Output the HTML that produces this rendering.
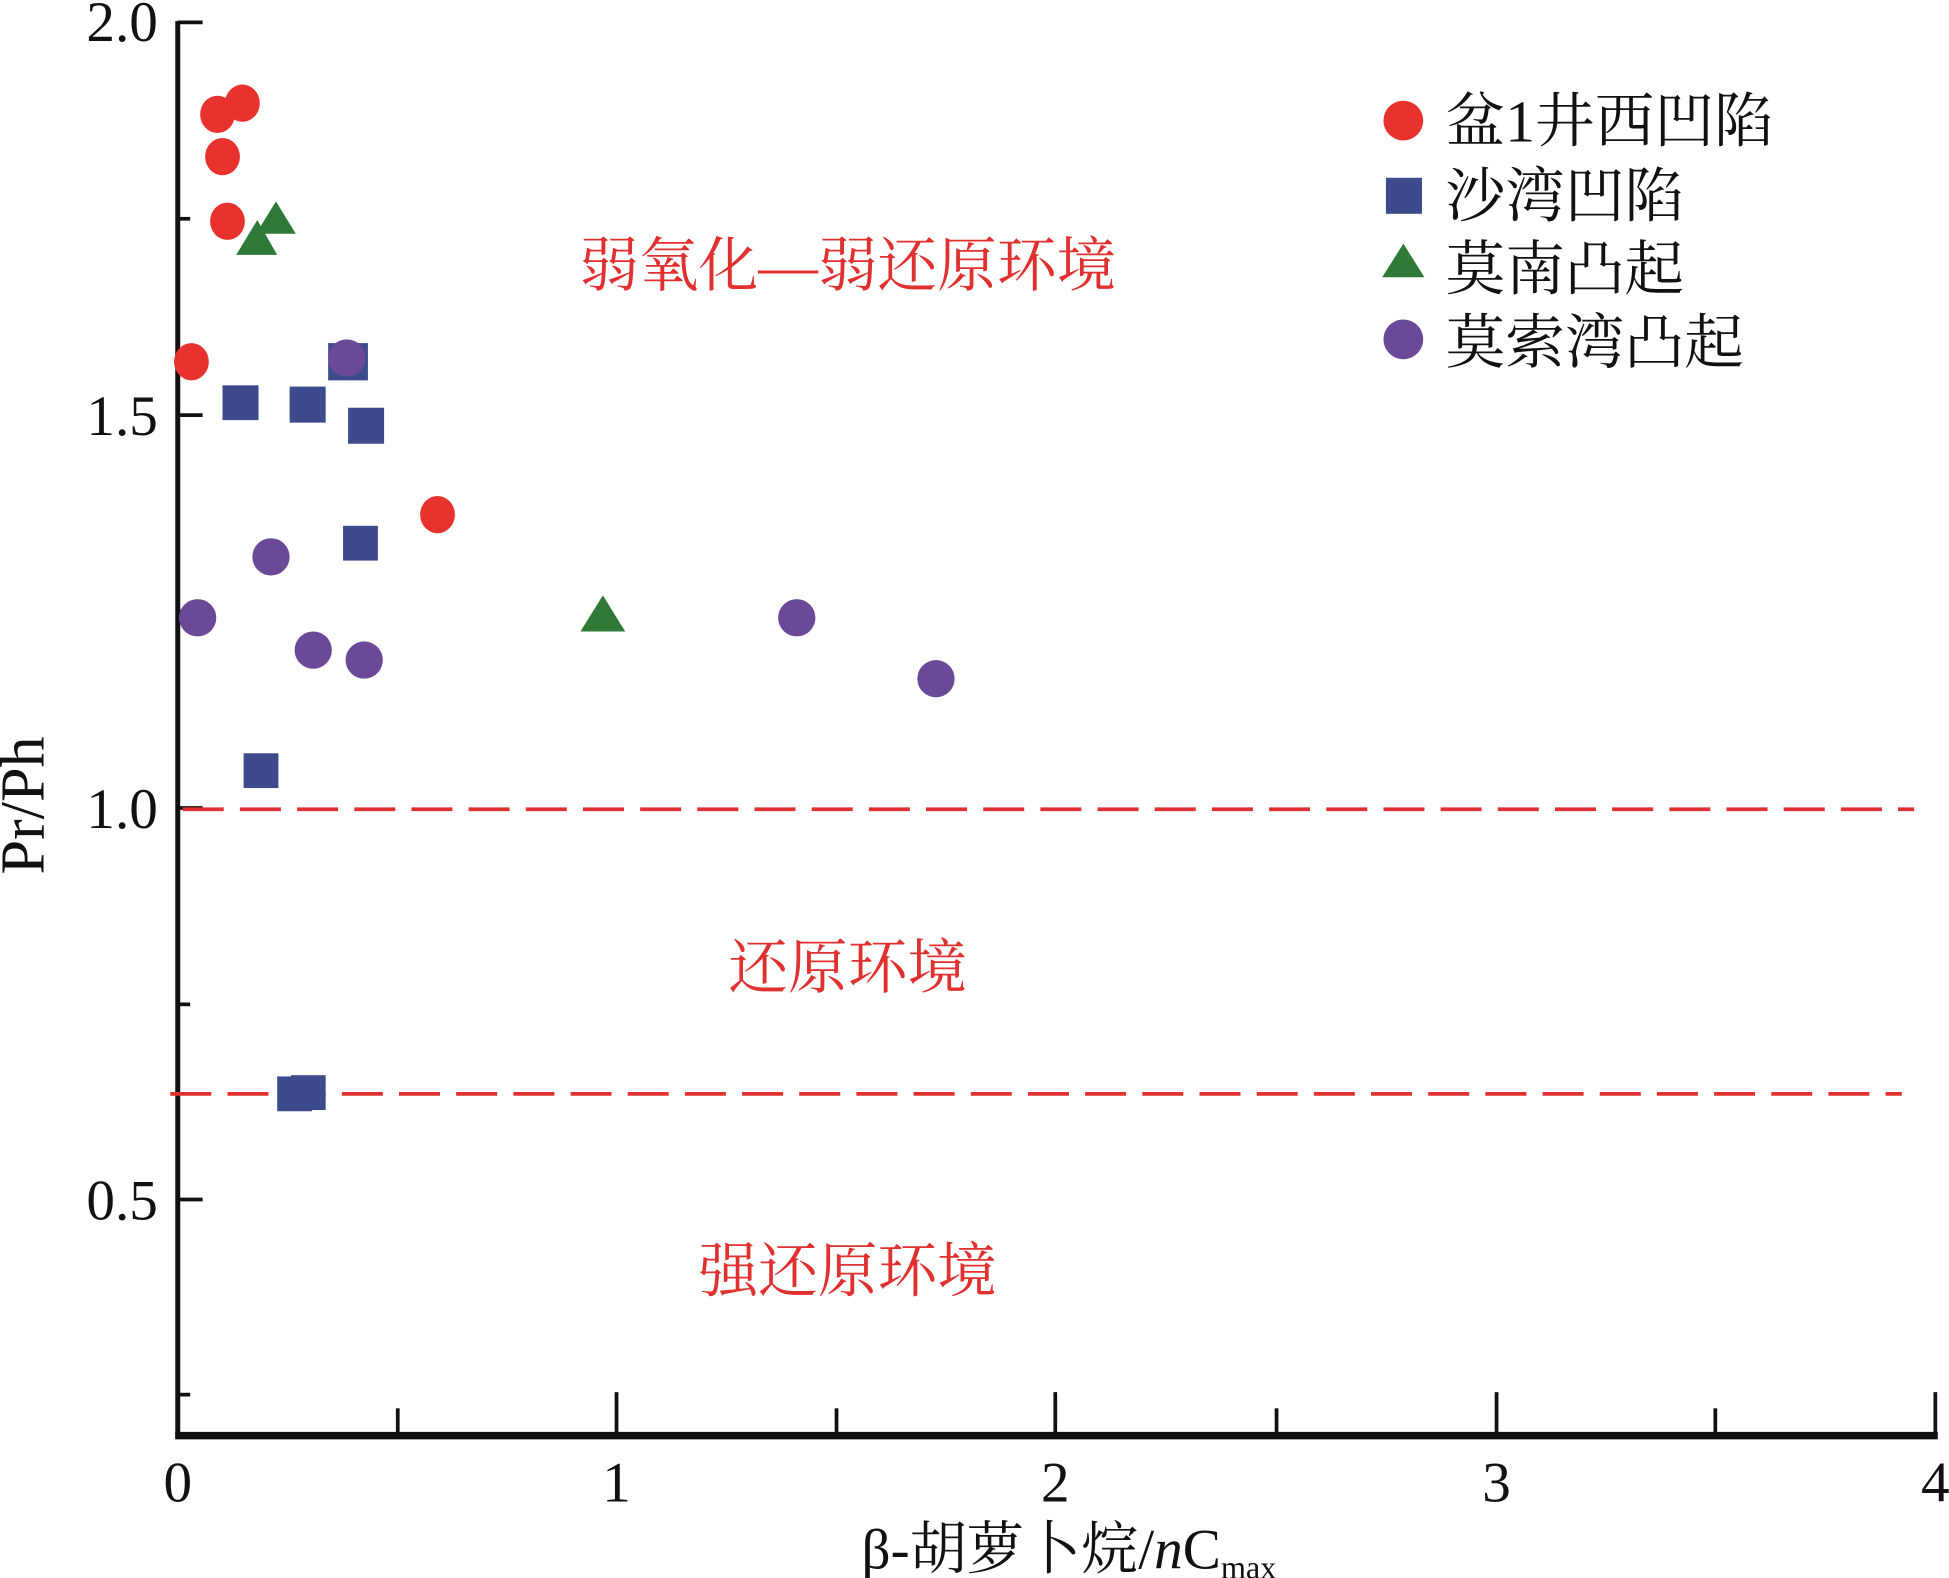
<!DOCTYPE html>
<html><head><meta charset="utf-8"><style>
html,body{margin:0;padding:0;background:#fff;}
svg{display:block;}
text{font-family:"Liberation Serif","Noto Serif CJK SC",serif;}
</style></head><body>
<svg width="1949" height="1578" viewBox="0 0 1568 1269.5" xmlns="http://www.w3.org/2000/svg">
<g stroke="#111" fill="none">
<line x1="143" y1="17" x2="143" y2="1157" stroke-width="4"/>
<line x1="141" y1="1155" x2="1559" y2="1155" stroke-width="6"/>
<g stroke-width="3">
<line x1="143" y1="18" x2="163" y2="18"/>
<line x1="143" y1="176" x2="153" y2="176"/>
<line x1="143" y1="334" x2="163" y2="334"/>
<line x1="143" y1="492" x2="153" y2="492"/>
<line x1="143" y1="650" x2="163" y2="650"/>
<line x1="143" y1="808" x2="153" y2="808"/>
<line x1="143" y1="965" x2="163" y2="965"/>
<line x1="143" y1="1122" x2="153" y2="1122"/>
<line x1="320" y1="1155" x2="320" y2="1133"/>
<line x1="496" y1="1155" x2="496" y2="1120"/>
<line x1="673" y1="1155" x2="673" y2="1133"/>
<line x1="849" y1="1155" x2="849" y2="1120"/>
<line x1="1027" y1="1155" x2="1027" y2="1133"/>
<line x1="1204" y1="1155" x2="1204" y2="1120"/>
<line x1="1380" y1="1155" x2="1380" y2="1133"/>
<line x1="1557" y1="1155" x2="1557" y2="1120"/>
</g></g>
<g font-size="46" fill="#111" text-anchor="end">
<text x="127" y="33">2.0</text><text x="127" y="350">1.5</text><text x="127" y="666">1.0</text><text x="127" y="981">0.5</text>
</g>
<g font-size="46" fill="#111" text-anchor="middle">
<text x="143" y="1208">0</text><text x="496" y="1208">1</text><text x="849" y="1208">2</text><text x="1204" y="1208">3</text><text x="1557" y="1208">4</text>
<text x="860" y="1262">β-胡萝卜烷/<tspan font-style="italic">n</tspan>C<tspan font-size="26" dy="8">max</tspan></text>
<text x="0" y="0" font-size="50" transform="translate(35,648) rotate(-90)">Pr/Ph</text>
</g>
<g stroke="#e03030" stroke-width="3" stroke-dasharray="33,13">
<line x1="147" y1="651" x2="1540" y2="651"/>
<line x1="137" y1="880" x2="1530" y2="880"/>
</g>
<g font-size="48" fill="#e03030" text-anchor="middle">
<text x="682" y="230">弱氧化—弱还原环境</text>
<text x="682" y="795">还原环境</text>
<text x="682" y="1039">强还原环境</text>
</g>
<g fill="#3d4b8c">
<rect x="264" y="276" width="32" height="30"/>
<rect x="179" y="310" width="29" height="28"/>
<rect x="233" y="311" width="29" height="29"/>
<rect x="280" y="328" width="29" height="29"/>
<rect x="276" y="423" width="28" height="28"/>
<rect x="196" y="606" width="28" height="28"/>
<rect x="223" y="866" width="28" height="28"/>
<rect x="234" y="865" width="28" height="28"/>
</g>
<g fill="#e8322e">
<ellipse cx="175" cy="92" rx="14" ry="15"/>
<ellipse cx="195" cy="83" rx="14" ry="15"/>
<ellipse cx="179" cy="126" rx="14" ry="15"/>
<ellipse cx="183" cy="178" rx="14" ry="15"/>
<ellipse cx="154" cy="291" rx="14" ry="15"/>
<ellipse cx="352" cy="414" rx="14" ry="15"/>
</g>
<g fill="#2e7a36">
<polygon points="222,162 238,188 206,188"/>
<polygon points="207,177 223,205 190,205"/>
<polygon points="485,479 503,508 467,508"/>
</g>
<g fill="#6a4a98">
<ellipse cx="279" cy="288" rx="15" ry="15"/>
<ellipse cx="159" cy="497" rx="15" ry="15"/>
<ellipse cx="218" cy="448" rx="15" ry="15"/>
<ellipse cx="252" cy="523" rx="15" ry="15"/>
<ellipse cx="293" cy="531" rx="15" ry="15"/>
<ellipse cx="641" cy="497" rx="15" ry="15"/>
<ellipse cx="753" cy="546" rx="15" ry="15"/>
</g>
<circle cx="1129" cy="97" r="16" fill="#e8322e"/>
<rect x="1115" y="143" width="29" height="29" fill="#3d4b8c"/>
<polygon points="1129,196 1146,223 1112,223" fill="#2e7a36"/>
<circle cx="1129" cy="273" r="16" fill="#6a4a98"/>
<g font-size="48" fill="#111">
<text x="1163" y="114">盆1井西凹陷</text>
<text x="1163" y="174">沙湾凹陷</text>
<text x="1163" y="233">莫南凸起</text>
<text x="1163" y="292">莫索湾凸起</text>
</g>
</svg>
</body></html>
